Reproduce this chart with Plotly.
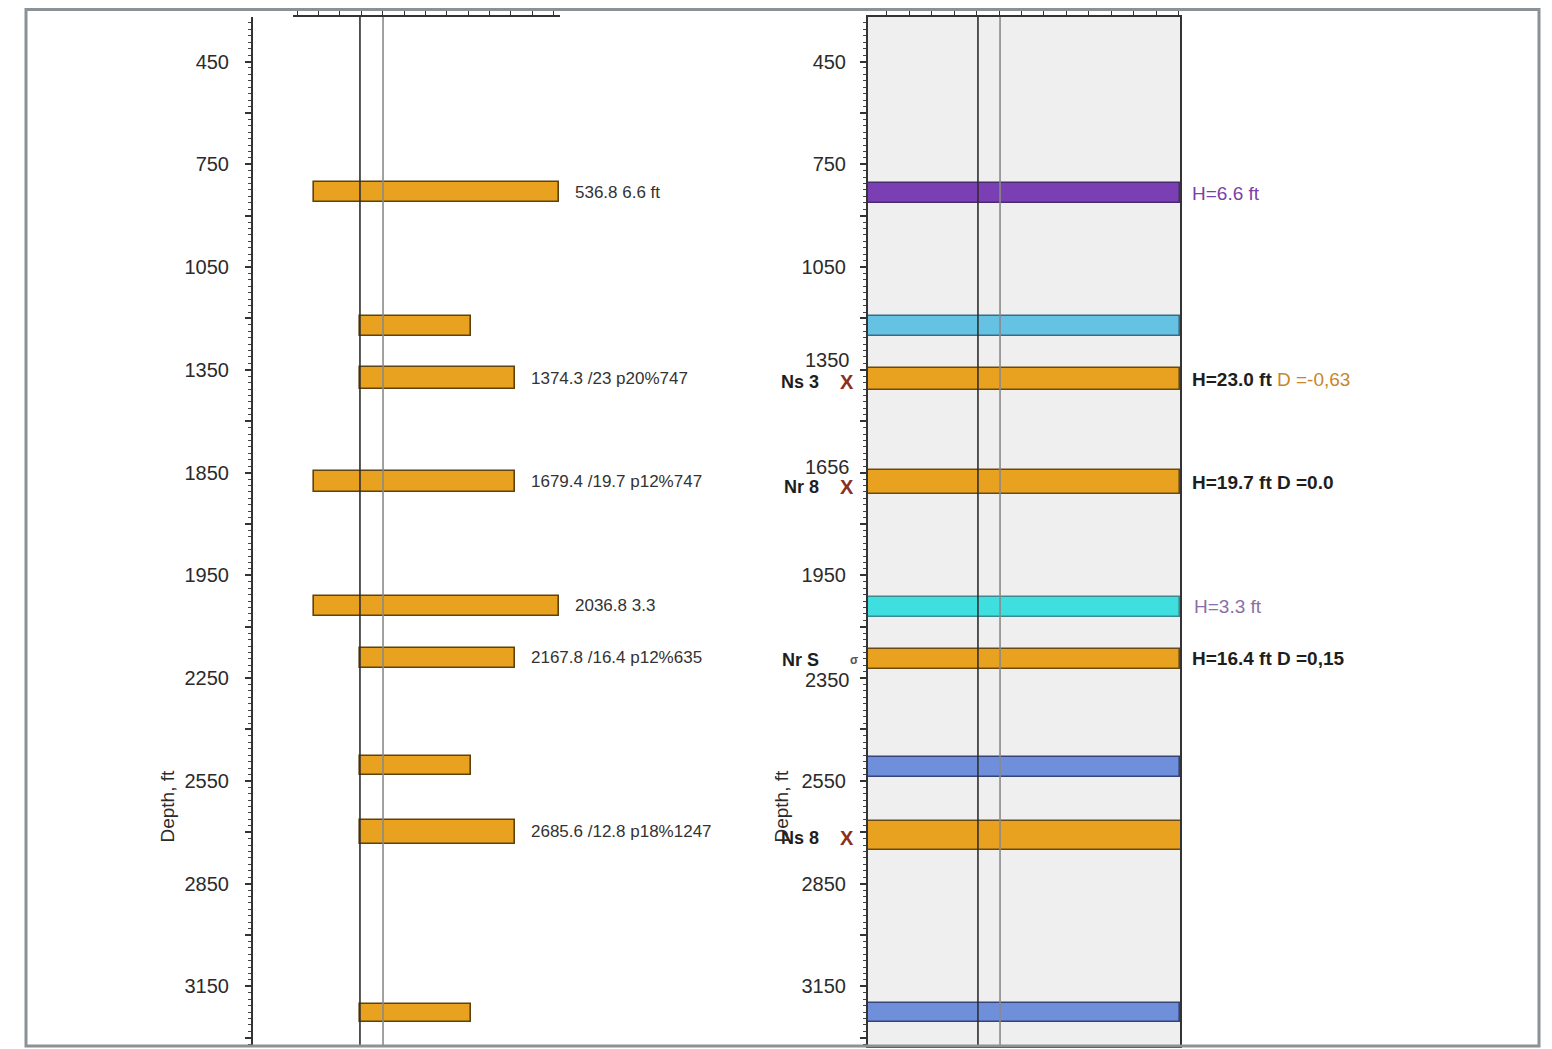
import plotly.graph_objects as go

W, H = 1552, 1049
OFF = 8  # default page margin of the html body

# ---------------- data ----------------
depth_ticks = [450, 750, 1050, 1350, 1650, 1950, 2250, 2550, 2850, 3150]
left_tick_text = ["450", "750", "1050", "1350", "1850", "1950", "2250", "2550", "2850", "3150"]
right_tick_text = ["450", "750", "1050", "1350", "1656", "1950", "2350", "2550", "2850", "3150"]
right_tick_nudge = [0, 0, 0, 10, 6, 0, -2, 0, 0, 0]   # label offsets seen on the right track
depth_range = [3324, 320]

# left track: interval bars
left_depth = [831, 1222, 1374, 1675, 2039, 2191, 2506, 2699, 3227]
left_start = [2.0, 6.3, 6.3, 2.0, 2.0, 6.3, 6.3, 6.3, 6.3]
left_end = [24.9, 16.7, 20.8, 20.8, 24.9, 20.8, 16.7, 20.8, 16.7]
left_thick = [58, 58, 62, 62, 58, 58, 56, 72, 54]
left_labels = ["536.8 6.6 ft", "", "1374.3 /23 p20%747", "1679.4 /19.7 p12%747",
               "2036.8 3.3", "2167.8 /16.4 p12%635", "", "2685.6 /12.8 p18%1247", ""]
left_vlines = [6.27, 8.43]

# right track: layer bands
right_depth = [834, 1222, 1377, 1678, 2042, 2194, 2509, 2709, 3227]
right_end = [25, 25, 25, 25, 25, 25, 25, 25.3, 25]
right_thick = [58, 58, 64, 70, 58, 58, 58, 86, 56]
right_fill = ["#7b3fb4", "#66c2e2", "#e9a21f", "#e9a21f", "#3fdfe0",
              "#e9a21f", "#6f8fda", "#e9a21f", "#6f8fda"]
right_edge = ["#4a2a70", "#3a6a8a", "#6a4a12", "#6a4a12", "#3a8a90",
              "#6a4a12", "#34447a", "#6a4a12", "#34447a"]
right_labels = [
    "<span style='color:#7a3fa8'>H=6.6 ft</span>",
    "",
    "<b>H=23.0 ft</b> <span style='color:#c8862a'>D =-0,63</span>",
    "<b>H=19.7 ft D =0.0</b>",
    "<span style='color:#8a6fa6'>H=3.3 ft</span>",
    "<b>H=16.4 ft D =0,15</b>",
    "",
    "<b>H=42.6 ft</b>   <span style='color:#c8862a'>D =-6.3</span>",
    "",
]
right_label_shift = [10, 0, 10, 10, 12, 10, 0, 20, 0]
right_vlines = [8.81, 10.58]

well_names = ["Ns 3", "Nr 8", "Nr S", "Ns 8"]
well_depth = [1386, 1692, 2197, 2717]
well_marks = ["X", "X", "σ", "X"]

# ---------------- helpers (layout only) ----------------
def px(x):
    return (x - OFF) / W

def py(y):
    return 1 - (y - OFF) / H

FONT = "Liberation Sans, Arial, sans-serif"
TXT = "#2b2b2b"

fig = go.Figure()

fig.add_trace(go.Bar(
    orientation="h",
    y=left_depth,
    x=[e - s for s, e in zip(left_start, left_end)],
    base=left_start,
    width=left_thick,
    marker=dict(color="#e9a21f", line=dict(color="#5e4210", width=1.6)),
    xaxis="x", yaxis="y", showlegend=False, hoverinfo="skip",
))

fig.add_trace(go.Bar(
    orientation="h",
    y=right_depth,
    x=right_end,
    base=[0] * len(right_end),
    width=right_thick,
    marker=dict(color=right_fill, line=dict(color=right_edge, width=1.6)),
    xaxis="x2", yaxis="y2", showlegend=False, hoverinfo="skip",
))

shapes = []
shapes.append(dict(type="rect", xref="x2 domain", yref="y2 domain", x0=0, x1=1, y0=0, y1=1,
                   fillcolor="#efefef", line=dict(width=0), layer="below"))
for xv, col in zip(left_vlines, ["#2e2e2e", "#8a8a8a"]):
    shapes.append(dict(type="line", xref="x", yref="y domain", x0=xv, x1=xv, y0=0, y1=1,
                       line=dict(color=col, width=1.6), layer="above"))
for xv, col in zip(right_vlines, ["#2e2e2e", "#8a8a8a"]):
    shapes.append(dict(type="line", xref="x2", yref="y2 domain", x0=xv, x1=xv, y0=0, y1=1,
                       line=dict(color=col, width=1.6), layer="above"))
shapes.append(dict(type="rect", xref="paper", yref="paper", x0=px(26), x1=px(1539),
                   y0=py(1046), y1=py(9.6), line=dict(color="#8c9196", width=3),
                   fillcolor="rgba(0,0,0,0)"))

annotations = []
for d, e, t in zip(left_depth, left_end, left_labels):
    if t:
        annotations.append(dict(x=e, y=d, xref="x", yref="y", text=t, showarrow=False,
                                xanchor="left", yanchor="middle", xshift=14,
                                font=dict(family=FONT, size=17, color="#333333")))
for d, e, t, s in zip(right_depth, right_end, right_labels, right_label_shift):
    if t:
        annotations.append(dict(x=e, y=d, xref="x2", yref="y2", text=t, showarrow=False,
                                xanchor="left", yanchor="middle", xshift=s,
                                font=dict(family=FONT, size=19, color="#1e1e1e")))
for n, d, m in zip(well_names, well_depth, well_marks):
    annotations.append(dict(x=0, y=d, xref="x2", yref="y2", text="<b>" + n + "</b>",
                            showarrow=False, xanchor="right", yanchor="middle", xshift=-47,
                            font=dict(family=FONT, size=18, color="#1e1e1e")))
    annotations.append(dict(x=0, y=d, xref="x2", yref="y2", text="<b>" + m + "</b>",
                            showarrow=False, xanchor="center", yanchor="middle",
                            xshift=-21 if m == "X" else -14,
                            font=dict(family=FONT, size=20 if m == "X" else 12,
                                      color="#8a3020" if m == "X" else "#555555")))
right_axis_text = []
for v, t, nudge in zip(depth_ticks, right_tick_text, right_tick_nudge):
    if nudge:
        right_axis_text.append("")
        annotations.append(dict(x=0, y=v, xref="x2", yref="y2", text=t, showarrow=False,
                                xanchor="right", yanchor="middle", xshift=-16, yshift=nudge,
                                font=dict(family=FONT, size=20, color=TXT)))
    else:
        right_axis_text.append(t)
annotations.append(dict(x=px(168), y=2625, xref="paper", yref="y", text="Depth, ft",
                        textangle=-90, showarrow=False, xanchor="center", yanchor="middle",
                        font=dict(family=FONT, size=19, color=TXT)))
annotations.append(dict(x=px(782), y=2625, xref="paper", yref="y2", text="Depth, ft",
                        textangle=-90, showarrow=False, xanchor="center", yanchor="middle",
                        font=dict(family=FONT, size=19, color=TXT)))

tickvals_all, left_text_all, right_text_all = [], [], []
for v, lt, rt in zip(depth_ticks, left_tick_text, right_axis_text):
    tickvals_all += [v, v + 150]
    left_text_all += [lt, ""]
    right_text_all += [rt, ""]

yaxis_common = dict(
    range=depth_range, tickvals=tickvals_all, ticks="outside", ticklen=6, tickwidth=1.5,
    tickcolor="#333333", showline=True, linecolor="#333333", linewidth=2,
    showgrid=False, zeroline=False,
    tickfont=dict(family=FONT, size=20, color=TXT),
    minor=dict(tick0=450, dtick=18.75, ticks="outside", ticklen=3, tickwidth=1,
               tickcolor="#444444", showgrid=False),
    domain=[py(1046), py(17)],
)

fig.update_layout(
    width=W, height=H,
    margin=dict(l=0, r=0, t=0, b=0),
    paper_bgcolor="white", plot_bgcolor="rgba(0,0,0,0)",
    barmode="overlay", bargap=0,
    showlegend=False,
    xaxis=dict(domain=[px(293), px(560)], range=[0, 25], side="top", anchor="y",
               showline=True, linecolor="#333333", linewidth=2, ticks="outside",
               ticklen=6, tickwidth=1.3, tickcolor="#333333", dtick=2, tick0=0.4,
               showticklabels=False, showgrid=False, zeroline=False),
    yaxis=dict(**yaxis_common, anchor="free", position=px(252), ticktext=left_text_all,
               ticklabelstandoff=12),
    xaxis2=dict(domain=[px(868), px(1180)], range=[0, 25], side="top", anchor="y2",
                showline=True, mirror=True, linecolor="#333333", linewidth=2,
                ticks="outside", ticklen=6, tickwidth=1.3, tickcolor="#333333",
                dtick=1.8, tick0=3.3, showticklabels=False, showgrid=False, zeroline=False),
    yaxis2=dict(**yaxis_common, anchor="x2", mirror=True, ticktext=right_text_all,
                ticklabelstandoff=10),
    shapes=shapes,
    annotations=annotations,
)

fig.write_html("out.html")
